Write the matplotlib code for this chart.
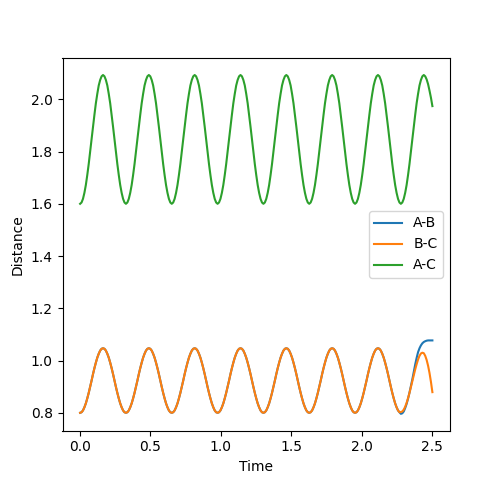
import numpy as np
import matplotlib
matplotlib.use("Agg")
import matplotlib.pyplot as plt

# time grid (uniform sampling of the trajectory)
time = np.linspace(0.0, 2.503, 247)

# distances (one oscillation = 32 samples)
ab_dist = [
    0.800, 0.802, 0.809, 0.821, 0.836, 0.855, 0.876, 0.899, 0.923, 0.948, 0.971, 0.992, 1.011, 1.026, 1.038, 1.045, 1.047, 1.045, 1.038, 1.026, 1.011, 0.992, 0.971, 0.948, 0.923, 0.899, 0.876, 0.855, 0.836, 0.821, 0.809, 0.802,
    0.800, 0.802, 0.809, 0.821, 0.836, 0.855, 0.876, 0.899, 0.923, 0.948, 0.971, 0.992, 1.011, 1.026, 1.038, 1.045, 1.047, 1.045, 1.038, 1.026, 1.011, 0.992, 0.971, 0.948, 0.923, 0.899, 0.876, 0.855, 0.836, 0.821, 0.809, 0.802,
    0.800, 0.802, 0.809, 0.821, 0.836, 0.855, 0.876, 0.899, 0.923, 0.948, 0.971, 0.992, 1.011, 1.026, 1.038, 1.045, 1.047, 1.045, 1.038, 1.026, 1.011, 0.992, 0.971, 0.948, 0.923, 0.899, 0.876, 0.855, 0.836, 0.821, 0.809, 0.802,
    0.800, 0.802, 0.809, 0.821, 0.836, 0.855, 0.876, 0.899, 0.923, 0.948, 0.971, 0.992, 1.011, 1.026, 1.038, 1.045, 1.047, 1.045, 1.038, 1.026, 1.011, 0.992, 0.971, 0.948, 0.923, 0.899, 0.876, 0.855, 0.836, 0.821, 0.809, 0.802,
    0.800, 0.802, 0.809, 0.821, 0.836, 0.855, 0.876, 0.899, 0.923, 0.948, 0.971, 0.992, 1.011, 1.026, 1.038, 1.045, 1.047, 1.045, 1.038, 1.026, 1.011, 0.992, 0.971, 0.948, 0.923, 0.899, 0.876, 0.855, 0.836, 0.821, 0.809, 0.802,
    0.800, 0.802, 0.809, 0.821, 0.836, 0.855, 0.876, 0.899, 0.923, 0.948, 0.971, 0.992, 1.011, 1.026, 1.038, 1.045, 1.047, 1.045, 1.038, 1.026, 1.011, 0.992, 0.971, 0.948, 0.923, 0.899, 0.876, 0.855, 0.836, 0.821, 0.809, 0.802,
    0.800, 0.802, 0.809, 0.821, 0.836, 0.855, 0.876, 0.899, 0.923, 0.948, 0.971, 0.992, 1.011, 1.026, 1.038, 1.045, 1.047, 1.045, 1.038, 1.026, 1.011, 0.992, 0.971, 0.948, 0.923, 0.899, 0.876, 0.855, 0.836, 0.821, 0.809, 0.802,
    0.796, 0.798, 0.805, 0.818, 0.834, 0.854, 0.877, 0.902, 0.928, 0.957, 0.985, 1.010, 1.032, 1.047, 1.058, 1.066, 1.071, 1.074, 1.076, 1.077, 1.077, 1.077, 1.077,
]
bc_dist = [
    0.800, 0.802, 0.809, 0.821, 0.836, 0.855, 0.876, 0.899, 0.923, 0.948, 0.971, 0.992, 1.011, 1.026, 1.038, 1.045, 1.047, 1.045, 1.038, 1.026, 1.011, 0.992, 0.971, 0.948, 0.923, 0.899, 0.876, 0.855, 0.836, 0.821, 0.809, 0.802,
    0.800, 0.802, 0.809, 0.821, 0.836, 0.855, 0.876, 0.899, 0.923, 0.948, 0.971, 0.992, 1.011, 1.026, 1.038, 1.045, 1.047, 1.045, 1.038, 1.026, 1.011, 0.992, 0.971, 0.948, 0.923, 0.899, 0.876, 0.855, 0.836, 0.821, 0.809, 0.802,
    0.800, 0.802, 0.809, 0.821, 0.836, 0.855, 0.876, 0.899, 0.923, 0.948, 0.971, 0.992, 1.011, 1.026, 1.038, 1.045, 1.047, 1.045, 1.038, 1.026, 1.011, 0.992, 0.971, 0.948, 0.923, 0.899, 0.876, 0.855, 0.836, 0.821, 0.809, 0.802,
    0.800, 0.802, 0.809, 0.821, 0.836, 0.855, 0.876, 0.899, 0.923, 0.948, 0.971, 0.992, 1.011, 1.026, 1.038, 1.045, 1.047, 1.045, 1.038, 1.026, 1.011, 0.992, 0.971, 0.948, 0.923, 0.899, 0.876, 0.855, 0.836, 0.821, 0.809, 0.802,
    0.800, 0.802, 0.809, 0.821, 0.836, 0.855, 0.876, 0.899, 0.923, 0.948, 0.971, 0.992, 1.011, 1.026, 1.038, 1.045, 1.047, 1.045, 1.038, 1.026, 1.011, 0.992, 0.971, 0.948, 0.923, 0.899, 0.876, 0.855, 0.836, 0.821, 0.809, 0.802,
    0.800, 0.802, 0.809, 0.821, 0.836, 0.855, 0.876, 0.899, 0.923, 0.948, 0.971, 0.992, 1.011, 1.026, 1.038, 1.045, 1.047, 1.045, 1.038, 1.026, 1.011, 0.992, 0.971, 0.948, 0.923, 0.899, 0.876, 0.855, 0.836, 0.821, 0.809, 0.802,
    0.800, 0.802, 0.809, 0.821, 0.836, 0.855, 0.876, 0.899, 0.923, 0.948, 0.971, 0.992, 1.011, 1.026, 1.038, 1.045, 1.047, 1.045, 1.038, 1.026, 1.011, 0.992, 0.971, 0.948, 0.923, 0.899, 0.876, 0.855, 0.836, 0.821, 0.809, 0.802,
    0.803, 0.805, 0.812, 0.823, 0.838, 0.856, 0.876, 0.898, 0.921, 0.944, 0.966, 0.986, 1.004, 1.018, 1.027, 1.030, 1.028, 1.018, 1.002, 0.980, 0.952, 0.918, 0.879,
]
ac_dist = [
    1.600, 1.605, 1.619, 1.642, 1.672, 1.710, 1.752, 1.798, 1.847, 1.895, 1.941, 1.985, 2.021, 2.053, 2.074, 2.088, 2.093, 2.088, 2.074, 2.053, 2.021, 1.985, 1.941, 1.895, 1.847, 1.798, 1.752, 1.710, 1.672, 1.642, 1.619, 1.605,
    1.600, 1.605, 1.619, 1.642, 1.672, 1.710, 1.752, 1.798, 1.847, 1.895, 1.941, 1.985, 2.021, 2.053, 2.074, 2.088, 2.093, 2.088, 2.074, 2.053, 2.021, 1.985, 1.941, 1.895, 1.847, 1.798, 1.752, 1.710, 1.672, 1.642, 1.619, 1.605,
    1.600, 1.605, 1.619, 1.642, 1.672, 1.710, 1.752, 1.798, 1.847, 1.895, 1.941, 1.985, 2.021, 2.053, 2.074, 2.088, 2.093, 2.088, 2.074, 2.053, 2.021, 1.985, 1.941, 1.895, 1.847, 1.798, 1.752, 1.710, 1.672, 1.642, 1.619, 1.605,
    1.600, 1.605, 1.619, 1.642, 1.672, 1.710, 1.752, 1.798, 1.847, 1.895, 1.941, 1.985, 2.021, 2.053, 2.074, 2.088, 2.093, 2.088, 2.074, 2.053, 2.021, 1.985, 1.941, 1.895, 1.847, 1.798, 1.752, 1.710, 1.672, 1.642, 1.619, 1.605,
    1.600, 1.605, 1.619, 1.642, 1.672, 1.710, 1.752, 1.798, 1.847, 1.895, 1.941, 1.985, 2.021, 2.053, 2.074, 2.088, 2.093, 2.088, 2.074, 2.053, 2.021, 1.985, 1.941, 1.895, 1.847, 1.798, 1.752, 1.710, 1.672, 1.642, 1.619, 1.605,
    1.600, 1.605, 1.619, 1.642, 1.672, 1.710, 1.752, 1.798, 1.847, 1.895, 1.941, 1.985, 2.021, 2.053, 2.074, 2.088, 2.093, 2.088, 2.074, 2.053, 2.021, 1.985, 1.941, 1.895, 1.847, 1.798, 1.752, 1.710, 1.672, 1.642, 1.619, 1.605,
    1.600, 1.605, 1.619, 1.642, 1.672, 1.710, 1.752, 1.798, 1.847, 1.895, 1.941, 1.985, 2.021, 2.053, 2.074, 2.088, 2.093, 2.088, 2.074, 2.053, 2.021, 1.985, 1.941, 1.895, 1.847, 1.798, 1.752, 1.710, 1.672, 1.642, 1.619, 1.605,
    1.600, 1.605, 1.619, 1.642, 1.672, 1.710, 1.752, 1.798, 1.847, 1.895, 1.941, 1.985, 2.021, 2.053, 2.074, 2.088, 2.093, 2.088, 2.076, 2.058, 2.033, 2.006, 1.974,
]
labels = ["A-B", "B-C", "A-C"]

fig, ax = plt.subplots(figsize=(5.0, 4.84), dpi=100)
ax.plot(time, ab_dist, label=labels[0])
ax.plot(time, bc_dist, label=labels[1])
ax.plot(time, ac_dist, label=labels[2])
ax.set_xlabel("Time")
ax.set_ylabel("Distance")
ax.legend(loc="center right")
fig.savefig("out.png", dpi=100)
